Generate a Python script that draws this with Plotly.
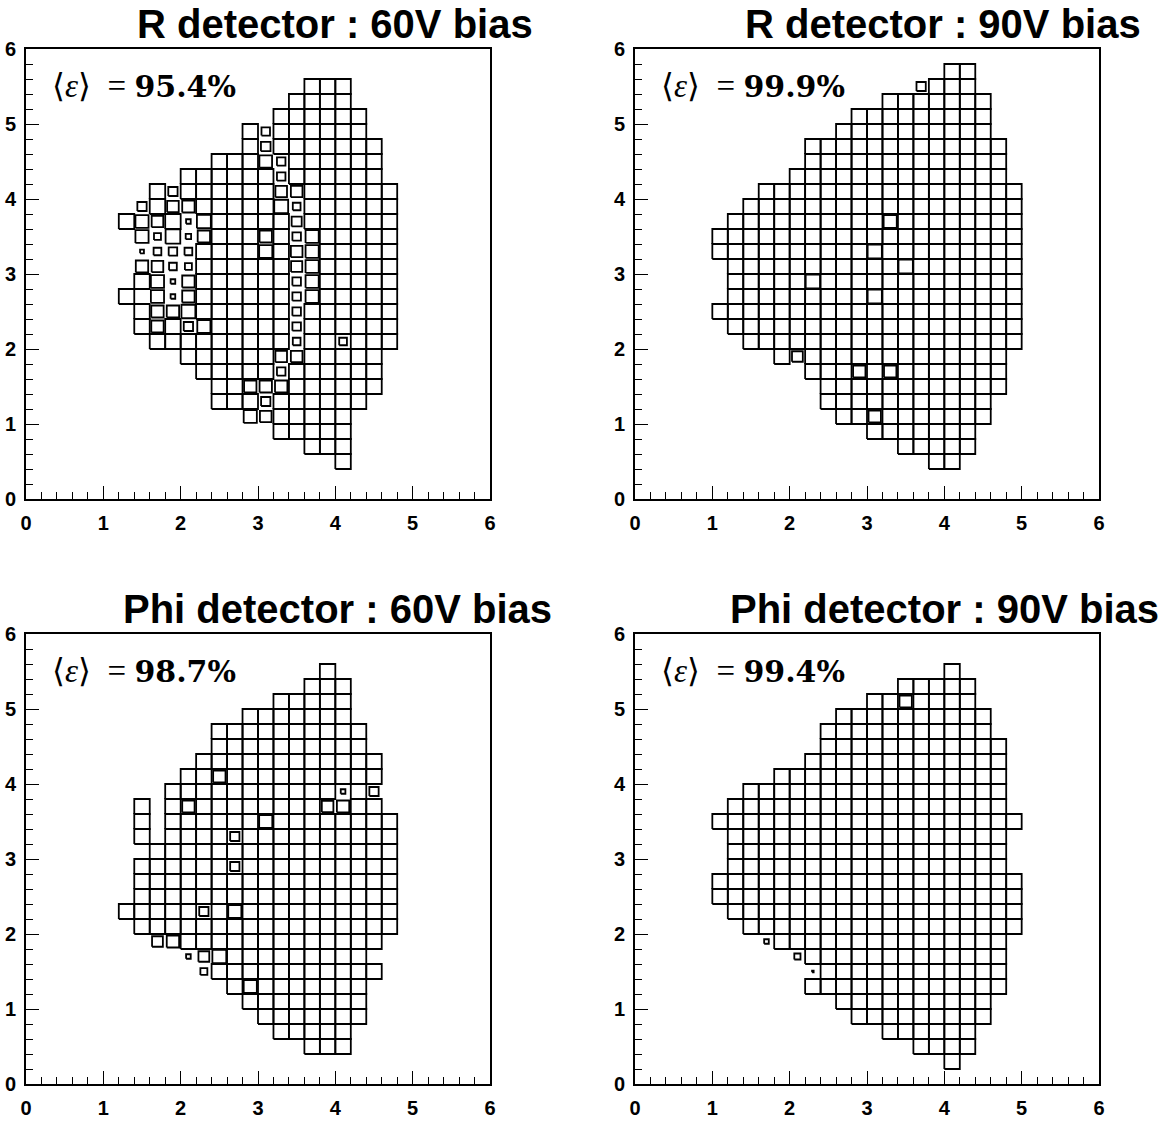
import plotly.graph_objects as go

W, H = 1172, 1121
STEP = 0.2  # bin width in both x and y

# Each row: (y bin low edge, first x low edge, x end edge) -- bins filled with data
# Each eff entry: (x low edge, y low edge, efficiency) for bins below 100 %

R60_ROWS = [
    (5.4, 3.6, 4.2), (5.2, 3.4, 4.2), (5.0, 3.2, 4.4), (4.8, 2.8, 4.4),
    (4.6, 2.8, 4.6), (4.4, 2.4, 4.6), (4.2, 2.0, 4.6), (4.0, 1.6, 4.8),
    (3.8, 1.4, 4.8), (3.6, 1.2, 4.8), (3.4, 1.4, 4.8), (3.2, 1.4, 4.8),
    (3.0, 1.4, 4.8), (2.8, 1.4, 4.8), (2.6, 1.2, 1.4), (2.6, 1.6, 4.8),
    (2.4, 1.4, 4.8), (2.2, 1.4, 4.8), (2.0, 1.6, 4.8), (1.8, 2.0, 4.6),
    (1.6, 2.2, 4.6), (1.4, 2.4, 4.6), (1.2, 2.4, 4.4), (1.0, 2.8, 4.2),
    (0.8, 3.2, 4.2), (0.6, 3.6, 4.2), (0.4, 4.0, 4.2),
]
R60_EFF = [
    (3.0, 4.8, 0.55), (3.0, 4.6, 0.62), (3.0, 4.4, 0.82), (3.2, 4.4, 0.55),
    (3.2, 4.2, 0.55), (1.8, 4.0, 0.6), (3.2, 4.0, 0.75), (3.4, 4.0, 0.75),
    (1.4, 3.8, 0.6), (1.8, 3.8, 0.75), (2.0, 3.8, 0.8), (3.2, 3.8, 0.9),
    (3.4, 3.8, 0.5), (1.4, 3.6, 0.85), (1.6, 3.6, 0.75), (2.0, 3.6, 0.3),
    (2.2, 3.6, 0.9), (3.4, 3.6, 0.65), (1.4, 3.4, 0.85), (1.6, 3.4, 0.45),
    (1.8, 3.4, 0.95), (2.0, 3.4, 0.35), (2.2, 3.4, 0.8), (3.0, 3.4, 0.8),
    (3.4, 3.4, 0.55), (3.6, 3.4, 0.85), (1.4, 3.2, 0.25), (1.6, 3.2, 0.5),
    (1.8, 3.2, 0.55), (2.0, 3.2, 0.5), (3.0, 3.2, 0.85), (3.4, 3.2, 0.75),
    (3.6, 3.2, 0.85), (1.4, 3.0, 0.8), (1.6, 3.0, 0.75), (1.8, 3.0, 0.5),
    (2.0, 3.0, 0.45), (3.4, 3.0, 0.72), (3.6, 3.0, 0.85), (1.6, 2.8, 0.85),
    (1.8, 2.8, 0.3), (2.0, 2.8, 0.8), (3.4, 2.8, 0.55), (3.6, 2.8, 0.85),
    (1.6, 2.6, 0.85), (1.8, 2.6, 0.3), (2.0, 2.6, 0.8), (3.4, 2.6, 0.55),
    (3.6, 2.6, 0.85), (1.6, 2.4, 0.8), (1.8, 2.4, 0.8), (2.0, 2.4, 0.9),
    (3.4, 2.4, 0.55), (1.6, 2.2, 0.8), (2.0, 2.2, 0.6), (2.2, 2.2, 0.85),
    (3.4, 2.2, 0.55), (3.4, 2.0, 0.5), (4.0, 2.0, 0.5), (3.2, 1.8, 0.75),
    (3.4, 1.8, 0.75), (3.2, 1.6, 0.55), (2.8, 1.4, 0.8), (3.0, 1.4, 0.8),
    (3.2, 1.4, 0.8), (3.0, 1.2, 0.6), (2.8, 1.0, 0.85), (3.0, 1.0, 0.75),
]

R90_ROWS = [
    (5.6, 4.0, 4.4), (5.4, 3.6, 4.4), (5.2, 3.2, 4.6), (5.0, 2.8, 4.6),
    (4.8, 2.6, 4.6), (4.6, 2.2, 4.8), (4.4, 2.2, 4.8), (4.2, 2.0, 4.8),
    (4.0, 1.6, 5.0), (3.8, 1.4, 5.0), (3.6, 1.2, 5.0), (3.4, 1.0, 5.0),
    (3.2, 1.0, 5.0), (3.0, 1.2, 5.0), (2.8, 1.2, 5.0), (2.6, 1.2, 5.0),
    (2.4, 1.0, 5.0), (2.2, 1.2, 5.0), (2.0, 1.4, 5.0), (1.8, 1.8, 4.8),
    (1.6, 2.2, 4.8), (1.4, 2.4, 4.8), (1.2, 2.4, 4.6), (1.0, 2.6, 4.6),
    (0.8, 3.0, 4.4), (0.6, 3.4, 4.4), (0.4, 3.8, 4.2),
]
R90_EFF = [
    (3.6, 5.4, 0.6), (3.2, 3.6, 0.85), (3.0, 3.2, 0.92), (3.4, 3.0, 0.93),
    (2.2, 2.8, 0.93), (3.0, 2.6, 0.92), (2.0, 1.8, 0.7), (2.8, 1.6, 0.8),
    (3.2, 1.6, 0.8), (3.0, 1.0, 0.8),
]

PHI60_ROWS = [
    (5.4, 3.8, 4.0), (5.2, 3.6, 4.2), (5.0, 3.2, 4.2), (4.8, 2.8, 4.2),
    (4.6, 2.4, 4.4), (4.4, 2.4, 4.4), (4.2, 2.2, 4.6), (4.0, 2.0, 4.6),
    (3.8, 1.8, 4.6), (3.6, 1.4, 1.6), (3.6, 1.8, 4.6), (3.4, 1.4, 1.6),
    (3.4, 1.8, 4.8), (3.2, 1.4, 1.6), (3.2, 1.8, 4.8), (3.0, 1.6, 4.8),
    (2.8, 1.4, 4.8), (2.6, 1.4, 4.8), (2.4, 1.4, 4.8), (2.2, 1.2, 4.8),
    (2.0, 1.4, 4.8), (1.8, 1.6, 4.6), (1.6, 2.0, 4.4), (1.4, 2.2, 4.6),
    (1.2, 2.6, 4.4), (1.0, 2.8, 4.4), (0.8, 3.0, 4.4), (0.6, 3.2, 4.2),
    (0.4, 3.6, 4.2),
]
PHI60_EFF = [
    (2.4, 4.0, 0.8), (4.0, 3.8, 0.3), (4.4, 3.8, 0.6), (2.0, 3.6, 0.8),
    (3.8, 3.6, 0.75), (4.0, 3.6, 0.8), (3.0, 3.4, 0.85), (2.6, 3.2, 0.6),
    (2.6, 2.8, 0.6), (2.2, 2.2, 0.6), (2.6, 2.2, 0.85), (1.6, 1.8, 0.7),
    (1.8, 1.8, 0.8), (2.0, 1.6, 0.3), (2.2, 1.6, 0.7), (2.4, 1.6, 0.9),
    (2.2, 1.4, 0.45), (2.8, 1.2, 0.85),
]

PHI90_ROWS = [
    (5.4, 4.0, 4.2), (5.2, 3.4, 4.4), (5.0, 3.0, 4.4), (4.8, 2.6, 4.6),
    (4.6, 2.4, 4.6), (4.4, 2.4, 4.8), (4.2, 2.2, 4.8), (4.0, 1.8, 4.8),
    (3.8, 1.4, 4.8), (3.6, 1.2, 4.8), (3.4, 1.0, 5.0), (3.2, 1.2, 4.8),
    (3.0, 1.2, 4.8), (2.8, 1.2, 4.8), (2.6, 1.0, 5.0), (2.4, 1.0, 5.0),
    (2.2, 1.2, 5.0), (2.0, 1.4, 5.0), (1.8, 1.6, 4.8), (1.6, 2.0, 4.8),
    (1.4, 2.2, 4.8), (1.2, 2.2, 4.8), (1.0, 2.6, 4.6), (0.8, 2.8, 4.6),
    (0.6, 3.2, 4.4), (0.4, 3.6, 4.4), (0.2, 4.0, 4.2),
]
PHI90_EFF = [
    (3.4, 5.0, 0.8), (1.6, 1.8, 0.3), (2.0, 1.6, 0.4), (2.2, 1.4, 0.1),
]

TITLES = ["R detector : 60V bias", "R detector : 90V bias",
          "Phi detector : 60V bias", "Phi detector : 90V bias"]
MEAN_EFF = ["95.4%", "99.9%", "98.7%", "99.4%"]
TICKS = [0, 1, 2, 3, 4, 5, 6]

PANELS = [(R60_ROWS, R60_EFF), (R90_ROWS, R90_EFF),
          (PHI60_ROWS, PHI60_EFF), (PHI90_ROWS, PHI90_EFF)]


def idx(v):
    return int(round(v / STEP))


def box_paths(rows, effs):
    eff_map = {(idx(x), idx(y)): e for x, y, e in effs}
    xs, ys = [], []
    for ylo, xa, xb in rows:
        for i in range(idx(xa), idx(xb)):
            j = idx(ylo)
            e = eff_map.get((i, j), 1.0)
            xc = (i + 0.5) * STEP
            yc = (j + 0.5) * STEP
            h = 0.5 * STEP * e
            xs += [xc - h, xc + h, xc + h, xc - h, xc - h, None]
            ys += [yc - h, yc - h, yc + h, yc + h, yc - h, None]
    return xs, ys


# frame positions in pixels (left, right, top, bottom)
FRAMES = [(26, 490, 49, 499), (635, 1099, 49, 499),
          (26, 490, 634, 1084), (635, 1099, 634, 1084)]
# horizontal centre of each pad title in pixels
TITLE_X = [335, 943, 337, 945]

fig = go.Figure()
layout = {}
annotations = []
for k, ((rows, effs), (l, r, t, b)) in enumerate(zip(PANELS, FRAMES)):
    n = "" if k == 0 else str(k + 1)
    xs, ys = box_paths(rows, effs)
    fig.add_trace(go.Scatter(x=xs, y=ys, mode="lines",
                             line=dict(color="black", width=1.8),
                             xaxis="x" + n, yaxis="y" + n,
                             hoverinfo="skip", showlegend=False))
    common = dict(range=[0, 6], showgrid=False, zeroline=False,
                  automargin=False,
                  showline=True, linecolor="black", linewidth=1.6,
                  mirror=True, ticks="inside", ticklen=13, tickwidth=1.2,
                  tickcolor="black", tickvals=TICKS,
                  ticktext=["<b>%d</b>" % v for v in TICKS],
                  tickfont=dict(family="Liberation Sans", size=20,
                                color="black"),
                  minor=dict(ticks="inside", ticklen=7, dtick=0.2,
                             tickwidth=1.1, tickcolor="black"))
    layout["xaxis" + n] = dict(common, domain=[l / W, r / W],
                               anchor="y" + n, ticklabelstandoff=5)
    layout["yaxis" + n] = dict(common, domain=[1 - b / H, 1 - t / H],
                               anchor="x" + n, ticklabelstandoff=4)
    annotations.append(dict(
        text="<b>" + TITLES[k] + "</b>", x=TITLE_X[k] / W,
        y=1 - (t - 25) / H, xref="paper", yref="paper",
        xanchor="center", yanchor="middle", showarrow=False,
        font=dict(family="Liberation Sans", size=40, color="black")))
    annotations.append(dict(
        text=("\u27e8<i>\u03b5</i>\u27e9\u00a0 = "
              "<span style='font-family:DejaVu Serif;font-weight:bold;"
              "font-size:30px'>" + MEAN_EFF[k] + "</span>"),
        x=(l + 24) / W, y=1 - (t + 37) / H, xref="paper", yref="paper",
        xanchor="left", yanchor="middle", showarrow=False,
        font=dict(family="Liberation Serif", size=33, color="black")))

fig.update_layout(width=W, height=H, margin=dict(l=0, r=0, t=0, b=0),
                  paper_bgcolor="white", plot_bgcolor="white",
                  annotations=annotations, **layout)
fig.write_html("out.html")
